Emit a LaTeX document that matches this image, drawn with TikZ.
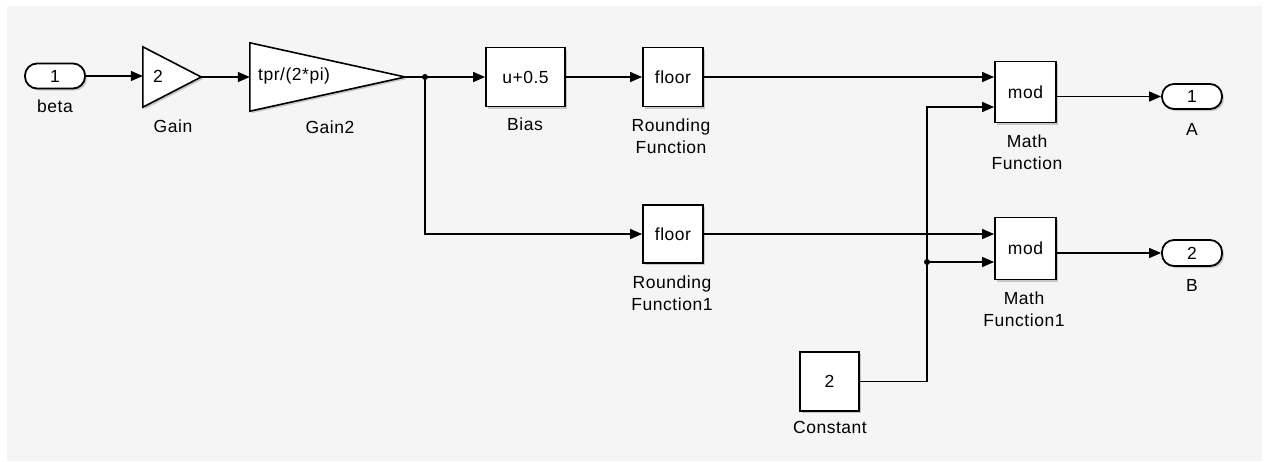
\documentclass[tikz,border=0pt]{standalone}
\usepackage{fontspec}
\setmainfont[LetterSpace=3]{Liberation Sans}
\usetikzlibrary{arrows.meta,shadows}
\definecolor{canvas}{HTML}{F5F5F5}
\newcommand\dfont{\fontsize{17.5}{22}\selectfont}
\tikzset{
  blk/.style={draw=black, line width=1.8pt, fill=white, inner sep=0pt,
    font=\dfont, drop shadow={shadow xshift=2pt, shadow yshift=-2pt, opacity=.18, fill=black}},
  port/.style={blk, rounded corners=12pt, minimum width=60pt, minimum height=25pt},
  tri/.style={inner sep=0pt},
  lbl/.style={font=\dfont, align=center, inner sep=0pt},
  wire/.style={line width=1.4pt, -{Triangle[length=12pt,width=10pt]}},
  junction/.style={circle, fill=black, inner sep=0pt, minimum size=6pt}
}
\begin{document}
\begin{tikzpicture}[x=1pt,y=-1pt]
  % canvas
  \useasboundingbox (0,0) rectangle (1269,461);
  \fill[canvas] (7,6) rectangle (1262,461);

  % inport
  \node[port] (in) at (55,76) {1};
  \node[lbl] (inlbl) at (55,106) {beta};

  % gain blocks (triangles drawn over invisible frames)
  \node[tri, minimum width=58pt, minimum height=60pt] (gain) at (172,77) {};
  \draw[line width=1.6pt, fill=white, drop shadow={shadow xshift=2pt, shadow yshift=-2pt, opacity=.18, fill=black}]
    (gain.north west) -- (gain.east) -- (gain.south west) -- cycle;
  \node[lbl, anchor=west] (gaintxt) at (153,76) {2};
  \node[lbl] (gainlbl) at (173,126) {Gain};

  \node[tri, minimum width=155pt, minimum height=68pt] (gain2) at (327.5,77) {};
  \draw[line width=1.6pt, fill=white, drop shadow={shadow xshift=2pt, shadow yshift=-2pt, opacity=.18, fill=black}]
    (gain2.north west) -- (gain2.east) -- (gain2.south west) -- cycle;
  \node[lbl, anchor=west] (gain2txt) at (258,76) {tpr/(2*pi)};
  \node[lbl] (gain2lbl) at (330,127) {Gain2};

  % bias and rounding
  \node[blk, minimum width=79pt, minimum height=59pt] (bias) at (525.5,77) {u+0.5};
  \node[lbl] (biaslbl) at (525,124) {Bias};
  \node[blk, minimum width=60pt, minimum height=59pt] (floor) at (673,77) {floor};
  \node[lbl] (floorlbl) at (671,136) {Rounding\\Function};
  \node[blk, minimum width=60pt, minimum height=58pt] (floor1) at (673,234) {floor};
  \node[lbl] (floor1lbl) at (672,293) {Rounding\\Function1};

  % math functions
  \node[blk, minimum width=61pt, minimum height=61pt] (mod) at (1025.5,92) {mod};
  \node[lbl] (modlbl) at (1027,152) {Math\\Function};
  \node[blk, minimum width=61pt, minimum height=62pt] (mod1) at (1025.5,248.5) {mod};
  \node[lbl] (mod1lbl) at (1024,309) {Math\\Function1};

  % constant
  \node[blk, minimum width=59pt, minimum height=59pt] (const) at (829.5,381.5) {2};
  \node[lbl] (constlbl) at (830,427) {Constant};

  % outports
  \node[port] (outA) at (1192,96.5) {1};
  \node[lbl] (outAlbl) at (1192,129) {A};
  \node[port, minimum height=26pt] (outB) at (1192,253) {2};
  \node[lbl] (outBlbl) at (1192,285) {B};

  % junctions
  \node[junction] (j1) at (425,77) {};
  \node[junction] (jc) at (927,262) {};
  \coordinate (ct) at (927,107);

  % signal lines
  \draw[wire] (in.east) -- (in.east -| gain.west);
  \draw[wire] (gain.east) -- (gain2.west);
  \draw[wire] (gain2.east) -- (bias.west);
  \draw[wire] (j1.center) |- (floor1.west);
  \draw[wire] (bias.east) -- (floor.west);
  \draw[wire] (floor.east) -- (floor.east -| mod.west);
  \draw[wire] (floor1.east) -- (floor1.east -| mod1.west);
  \draw[wire] (const.east) -| (ct) -- (ct -| mod.west);
  \draw[wire] (jc.center) -- (jc.center -| mod1.west);
  \draw[wire] (mod.east |- outA.west) -- (outA.west);
  \draw[wire] (mod1.east |- outB.west) -- (outB.west);
\end{tikzpicture}
\end{document}
